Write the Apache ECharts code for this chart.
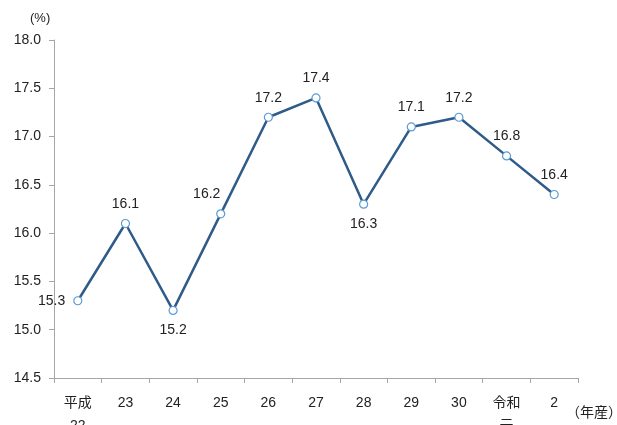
<!DOCTYPE html>
<html><head><meta charset="utf-8">
<script src="https://cdn.jsdelivr.net/npm/echarts@6/dist/echarts.min.js"></script>
<style>html,body{margin:0;padding:0;background:#fff}#c{width:617px;height:425px}</style>
</head><body><div id="c"></div>
<script>
const categories = ['平成\n22','23','24','25','26','27','28','29','30','令和\n元','2'];
const values = [15.3,16.1,15.2,16.2,17.2,17.4,16.3,17.1,17.2,16.8,16.4];
const labelPos = ['left','top','bottom','top','top','top','bottom','top','top','top','top'];
const labelShift = [0,0,0,-14,0,0,0,0,0,0,0];
const yMin = 14.5, yMax = 18.0, yStep = 0.5;

const chart = echarts.init(document.getElementById('c'));
const font = '"Liberation Sans","Noto Sans CJK JP",sans-serif';
chart.setOption({
  animation:false,
  grid:{left:54,right:39,top:40,bottom:47,containLabel:false,outerBoundsMode:'none'},
  xAxis:{type:'category',data:categories,boundaryGap:true,
    axisLine:{lineStyle:{color:'#a6a6a6'}},
    axisTick:{show:true,length:5,lineStyle:{color:'#a6a6a6'}},
    axisLabel:{color:'#222',fontSize:14,fontFamily:font,margin:14,lineHeight:23,interval:0}},
  yAxis:{type:'value',min:yMin,max:yMax,interval:yStep,
    axisLine:{show:true,lineStyle:{color:'#a6a6a6'}},
    axisTick:{show:true,length:5,lineStyle:{color:'#a6a6a6'}},
    splitLine:{show:false},
    axisLabel:{color:'#222',fontSize:14,fontFamily:font,margin:13,formatter:v=>v.toFixed(1)}},
  graphic:[
    {type:'text',left:30,top:12,style:{text:'(%)',fontSize:13,fontFamily:font,fill:'#222'}},
    {type:'text',left:566,top:406,style:{text:'（年産）',fontSize:14,fontFamily:font,fill:'#222'}}
  ],
  series:[{type:'line',data:values.map((v,i)=>({value:v,label:{position:labelPos[i],offset:[labelShift[i],0]}})),
    lineStyle:{color:'#2f5b88',width:2.5},
    symbol:'circle',symbolSize:8,
    itemStyle:{color:'#fff',borderColor:'#5b9bd5',borderWidth:1.2},
    label:{show:true,fontSize:14,fontFamily:font,color:'#222',distance:8,formatter:p=>p.value.toFixed(1)}}]
});
</script></body></html>
